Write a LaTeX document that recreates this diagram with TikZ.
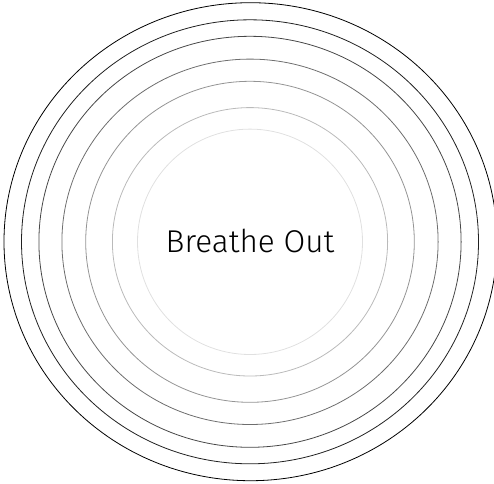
\documentclass[tikz,border=0pt]{standalone}
\usepackage{fontspec}
\newfontfamily\labfont{Fira Sans Light}
\begin{document}
\begin{tikzpicture}[x=1pt,y=-1pt,
  ring/.style={line width=0.8pt},
  lbl/.style={font=\labfont\fontsize{31.5}{36}\selectfont, inner sep=0pt, anchor=base}]
\useasboundingbox (0,0) rectangle (494,483);
\coordinate (c) at (250,241.8);
\draw[ring, black!12] (c) ellipse [x radius=112.5, y radius=112.7];
\draw[ring, black!27] (c) ellipse [x radius=137.6, y radius=134.2];
\draw[ring, black!42] (c) ellipse [x radius=164.3, y radius=160.5];
\draw[ring, black!57] (c) ellipse [x radius=188.1, y radius=182.7];
\draw[ring, black!72] (c) ellipse [x radius=211.1, y radius=205.5];
\draw[ring, black!87] (c) ellipse [x radius=228.5, y radius=222];
\draw[ring, black] (250.5,241.7) ellipse [x radius=246.5, y radius=239];
\node[lbl] (t) at (250,252.7) {Breathe Out};
\end{tikzpicture}
\end{document}
